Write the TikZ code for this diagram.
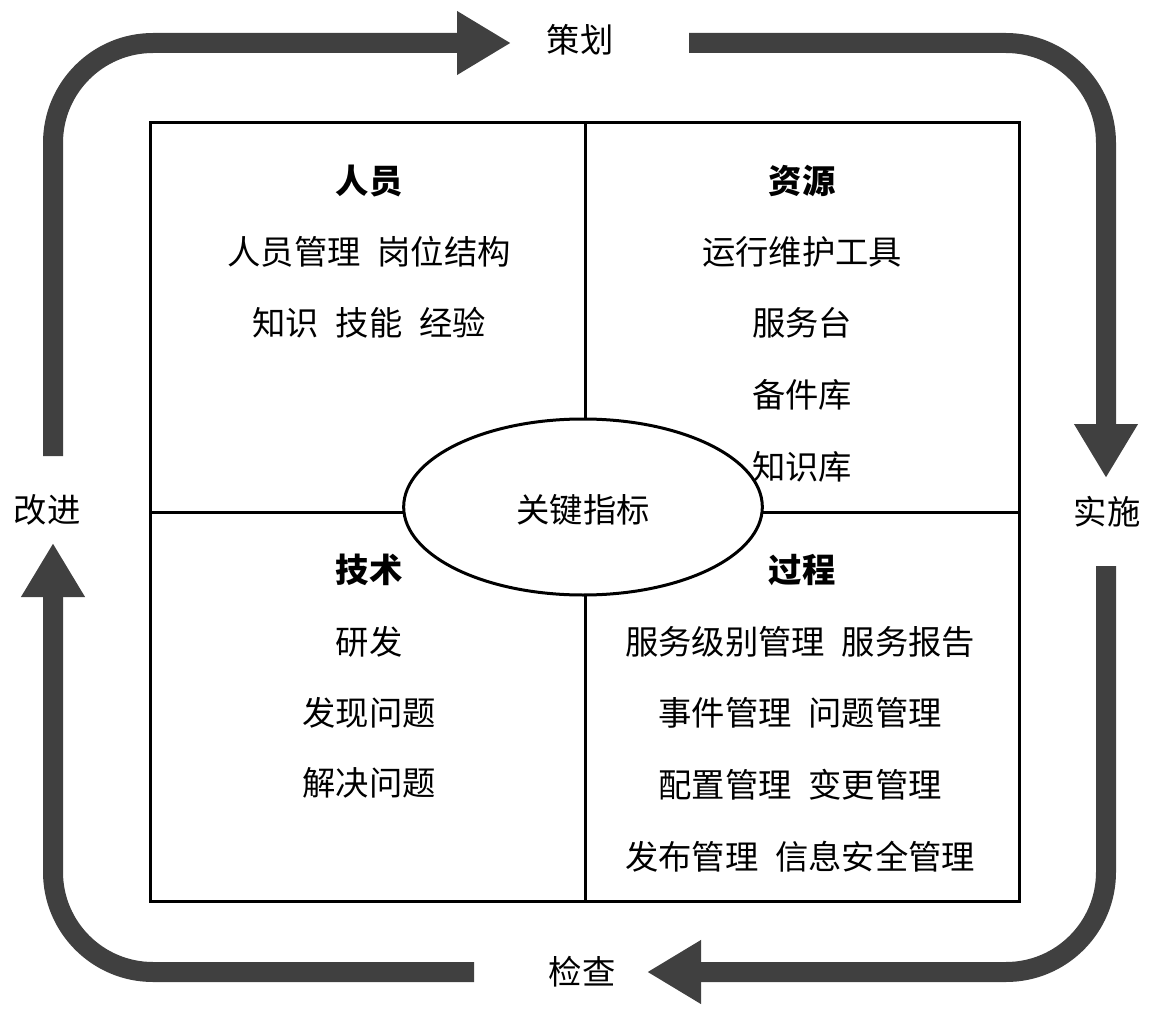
\documentclass[tikz,border=0pt]{standalone}
\usepackage{fontspec}
\setmainfont{Noto Sans CJK SC}
\usetikzlibrary{arrows.meta,shapes.geometric}
\definecolor{cycgray}{gray}{0.25}
\begin{document}
\begin{tikzpicture}[x=0.75pt,y=-0.75pt,
  cyc/.style={line width=15pt, draw=cycgray, rounded corners=75pt, line cap=butt,
              -{Triangle[length=40.5pt,width=45pt]}},
  lbl/.style={font=\fontsize{25pt}{29pt}\selectfont, inner sep=0pt},
  head/.style={font=\fontsize{25pt}{29pt}\selectfont\bfseries, inner sep=0pt},
  frame/.style={line width=2.25pt, draw=black}]
\useasboundingbox (0,0) rectangle (1157,1020);

% cycle labels
\node[lbl] (plan)  at (580,40)  {策划};
\node[lbl] (do)    at (1107,512) {实施};
\node[lbl] (check) at (582,972) {检查};
\node[lbl] (act)   at (47,510)  {改进};

% cycle connector ends
\coordinate (a1s) at (53,456);
\coordinate (a1e) at (511,43);
\coordinate (a2s) at (689,43);
\coordinate (a2e) at (1106,478);
\coordinate (a3s) at (1106,566);
\coordinate (a3e) at (647,972);
\coordinate (a4s) at (474,972);
\coordinate (a4e) at (53,543);

\draw[cyc] (a1s) |- (a1e);
\draw[cyc] (a2s) -| (a2e);
\draw[cyc] (a3s) |- (a3e);
\draw[cyc] (a4s) -| (a4e);

% main frame
\draw[frame] (150,123) rectangle (1019,901);
\draw[frame] (585,123) -- (585,901);
\draw[frame] (150,512) -- (1019,512);

\node[ellipse, frame, fill=white, inner sep=0pt,
      minimum width=269pt, minimum height=132pt] (kpi) at (583,507) {};
\node[lbl] (kpit) at (583,510) {关键指标};

% quadrant: people
\node[head] (ppl) at (369,181) {人员};
\node[lbl] (ppl1) at (369,252) {人员管理\hspace{0.5em}岗位结构};
\node[lbl] (ppl2) at (369,323) {知识\hspace{0.5em}技能\hspace{0.5em}经验};

% quadrant: resources
\node[head] (res) at (802,181) {资源};
\node[lbl] (res1) at (802,252) {运行维护工具};
\node[lbl] (res2) at (802,323) {服务台};
\node[lbl] (res3) at (802,395) {备件库};
\node[lbl] (res4) at (802,467) {知识库};

% quadrant: technology
\node[head] (tec) at (369,570) {技术};
\node[lbl] (tec1) at (369,642) {研发};
\node[lbl] (tec2) at (369,713) {发现问题};
\node[lbl] (tec3) at (369,783) {解决问题};

% quadrant: process
\node[head] (pro) at (802,570) {过程};
\node[lbl] (pro1) at (800,642) {服务级别管理\hspace{0.5em}服务报告};
\node[lbl] (pro2) at (800,713) {事件管理\hspace{0.5em}问题管理};
\node[lbl] (pro3) at (800,785) {配置管理\hspace{0.5em}变更管理};
\node[lbl] (pro4) at (800,857) {发布管理\hspace{0.5em}信息安全管理};
\end{tikzpicture}
\end{document}
